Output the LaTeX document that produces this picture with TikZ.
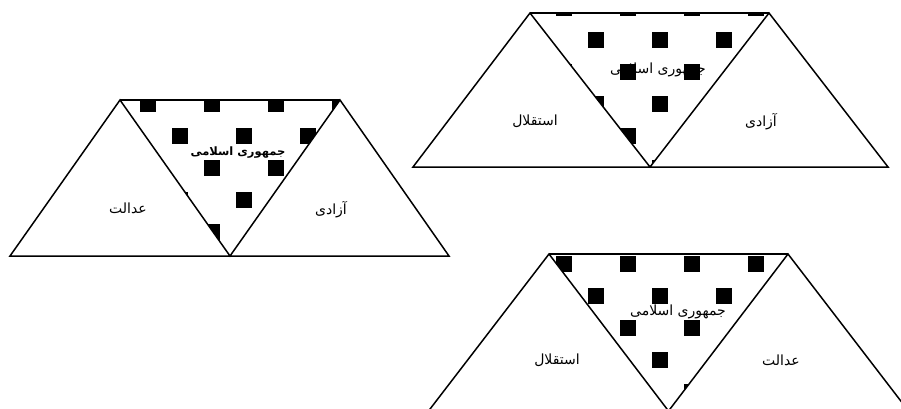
\documentclass[tikz,border=0pt]{standalone}
\usepackage{fontspec}
\newfontfamily\farsi[Script=Arabic]{DejaVu Sans}
\TeXXeTstate=1
\tikzset{
  side/.style={draw,line width=1.5pt,line join=miter},
  lbl/.style={font=\farsi\fontsize{14}{16}\selectfont},
  lblbold/.style={font=\farsi\bfseries\fontsize{11.5}{13}\selectfont},
  dot/.style={fill=black}
}
% chequered squares, one lattice for the whole page
\newcommand{\checkers}{%
  \foreach \j in {0,...,13}
    \foreach \k in {0,...,14} {
      \pgfmathsetmacro\sx{44+64*\k+32*mod(\j,2)}
      \fill[dot] (\sx,32*\j) rectangle ++(16,16);
    }}
\begin{document}
\begin{tikzpicture}[x=1pt,y=-1pt]
  \clip (0,0) rectangle (901,408);
  % Left group
  \coordinate (a1) at (10,256);
  \coordinate (a2) at (120,100);
  \coordinate (a3) at (230,256);
  \coordinate (a4) at (340,100);
  \coordinate (a5) at (449,256);
  \begin{scope}
    \clip (a2) -- (a4) -- (a3) -- cycle;
    \checkers
  \end{scope}
  \draw[side] (a1) -- (a2) -- (a3) -- (a4) -- (a5) -- cycle;
  \draw[side] (a2) -- (a4);
  \node[lbl] (adalat1) at (128,208) {\beginR عدالت\endR};
  \node[lbl] (azadi1) at (331,210) {\beginR آزادی\endR};
  \node[lblbold] (jomhuri1) at (238,153) {\beginR جمهوری اسلامی\endR};
  % Top right group
  \coordinate (b1) at (413,167);
  \coordinate (b2) at (530,13);
  \coordinate (b3) at (650,167);
  \coordinate (b4) at (769,13);
  \coordinate (b5) at (888,167);
  \node[lbl] (jomhuri2) at (658,70) {\beginR جمهوری اسلامی\endR};
  \begin{scope}
    \clip (b2) -- (b4) -- (b3) -- cycle;
    \checkers
  \end{scope}
  \draw[side] (b1) -- (b2) -- (b3) -- (b4) -- (b5) -- cycle;
  \draw[side] (b2) -- (b4);
  \node[lbl] (esteqlal1) at (535,121) {\beginR استقلال\endR};
  \node[lbl] (azadi2) at (761,122) {\beginR آزادی\endR};
  % Bottom right group (base runs off the page)
  \coordinate (c1) at (428.5,411);
  \coordinate (c2) at (549,254);
  \coordinate (c3) at (668.5,411);
  \coordinate (c4) at (788,254);
  \coordinate (c5) at (908.5,411);
  \begin{scope}
    \clip (c2) -- (c4) -- (c3) -- cycle;
    \checkers
  \end{scope}
  \draw[side] (c1) -- (c2) -- (c3) -- (c4) -- (c5) -- cycle;
  \draw[side] (c2) -- (c4);
  \node[lbl] (esteqlal2) at (557,360) {\beginR استقلال\endR};
  \node[lbl] (adalat2) at (781,360) {\beginR عدالت\endR};
  \node[lbl] (jomhuri3) at (678,312) {\beginR جمهوری اسلامی\endR};
\end{tikzpicture}
\end{document}
